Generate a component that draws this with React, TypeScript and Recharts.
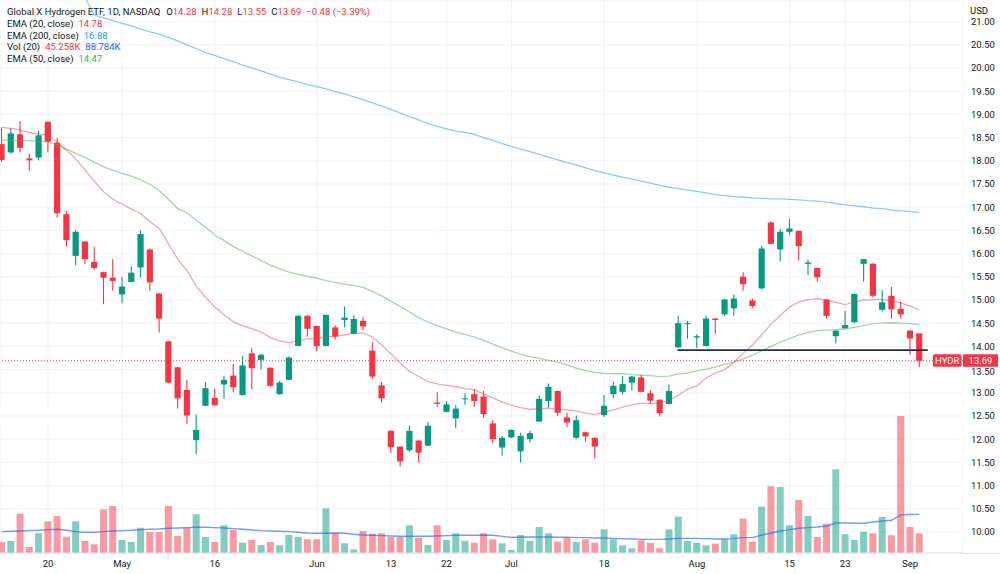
import React from 'react';
import {
  ComposedChart,
  Bar,
  Line,
  XAxis,
  YAxis,
  CartesianGrid,
  ReferenceLine,
} from 'recharts';

// Daily bars, trading-day index relative to Apr 20 (index 0)
const firstIndex = -5;

const opens = [
  18.36, 18.18, 18.57, 18.05, 18.07,
  18.84, 18.39, 16.85, 15.95, 16.26, 15.82, 15.60, 15.48, 15.12, 15.39,
  15.70, 16.09, 15.14, 14.11, 13.55, 13.06, 11.98, 12.72, 12.89, 13.18,
  13.37, 12.95, 13.85, 13.71, 13.54, 12.97, 13.28, 14.01, 14.66, 14.44,
  14.01, 14.41, 14.57, 14.27, 14.55, 13.91, 13.16, 12.18, 11.84, 11.76,
  11.97, 11.86, 12.79, 12.59, 12.45, 12.86, 12.97, 12.92, 12.34, 11.82,
  12.04, 11.74, 12.00, 12.38, 12.82, 13.04, 12.47, 12.03, 12.15, 12.03,
  12.52, 12.97, 13.02, 13.22, 13.33, 12.99, 12.85, 12.76, 13.98, 14.49,
  14.19, 14.01, 14.60, 14.69, 14.82, 15.50, 14.99, 15.25, 16.67, 16.09,
  16.47, 16.49, 15.78, 15.69, 15.01, 14.22, 14.39, 14.52, 15.78, 15.78,
  14.79, 15.09, 14.81, 14.34, 14.28,
];

const highs = [
  18.72, 18.70, 18.86, 18.16, 18.65,
  18.85, 18.49, 16.92, 16.51, 16.27, 16.15, 15.61, 15.88, 15.50, 15.73,
  16.50, 16.11, 15.15, 14.12, 13.56, 13.28, 12.54, 13.23, 13.08, 13.37,
  13.62, 13.79, 13.96, 13.84, 13.55, 13.26, 13.79, 14.67, 14.67, 14.45,
  14.69, 14.45, 14.86, 14.67, 14.64, 14.09, 13.24, 12.19, 11.85, 12.29,
  11.98, 12.37, 13.01, 12.82, 12.73, 12.99, 13.08, 13.04, 12.41, 12.07,
  12.21, 12.14, 12.18, 12.94, 13.20, 13.05, 12.57, 12.51, 12.16, 12.04,
  12.95, 13.24, 13.36, 13.36, 13.39, 13.06, 12.86, 13.18, 14.66, 14.55,
  14.26, 14.66, 14.61, 15.03, 15.12, 15.60, 15.03, 16.16, 16.70, 16.53,
  16.75, 16.50, 15.88, 15.70, 15.02, 14.35, 14.77, 15.14, 15.89, 15.79,
  15.21, 15.28, 14.96, 14.35, 14.28,
];

const lows = [
  17.98, 18.16, 18.18, 17.79, 18.01,
  18.18, 16.78, 16.15, 15.75, 15.78, 15.65, 14.91, 15.20, 14.93, 15.38,
  15.49, 15.20, 14.30, 13.21, 12.66, 12.32, 11.68, 12.71, 12.72, 12.87,
  13.01, 12.94, 13.07, 13.50, 13.13, 12.96, 13.27, 14.00, 14.21, 13.90,
  14.00, 14.15, 14.41, 14.26, 14.35, 13.30, 12.79, 11.71, 11.41, 11.73,
  11.49, 11.85, 12.70, 12.58, 12.24, 12.74, 12.70, 12.47, 11.91, 11.65,
  12.02, 11.50, 11.93, 12.37, 12.68, 12.50, 12.26, 12.00, 11.95, 11.59,
  12.48, 12.88, 12.97, 13.05, 13.01, 12.77, 12.49, 12.75, 13.97, 14.17,
  13.97, 14.00, 14.27, 14.66, 14.66, 15.20, 14.82, 15.23, 16.20, 15.83,
  16.40, 15.85, 15.54, 15.40, 14.60, 14.07, 14.38, 14.51, 15.40, 15.06,
  14.75, 14.60, 14.60, 13.82, 13.55,
];

const closes = [
  18.02, 18.59, 18.28, 18.01, 18.55,
  18.41, 16.87, 16.29, 16.47, 15.88, 15.69, 15.48, 15.41, 15.29, 15.59,
  16.42, 15.38, 14.60, 13.22, 12.88, 12.51, 12.20, 13.10, 12.73, 13.28,
  13.12, 13.59, 13.53, 13.82, 13.15, 13.22, 13.76, 14.66, 14.38, 14.01,
  14.68, 14.21, 14.62, 14.59, 14.43, 13.35, 12.88, 11.83, 11.52, 12.18,
  11.71, 12.29, 12.76, 12.75, 12.66, 12.88, 12.82, 12.54, 12.00, 12.03,
  12.20, 12.07, 12.13, 12.87, 13.13, 12.57, 12.36, 12.41, 12.06, 11.84,
  12.72, 13.15, 13.19, 13.35, 13.02, 12.83, 12.56, 13.04, 14.50, 14.50,
  14.22, 14.60, 14.57, 15.01, 15.03, 15.34, 14.87, 16.11, 16.21, 16.47,
  16.54, 16.16, 15.81, 15.49, 14.66, 14.34, 14.46, 15.13, 15.88, 15.09,
  14.95, 14.80, 14.69, 14.17, 13.69,
];

// Volume in thousands of shares
const volumes = [
  25.3, 27.6, 90.3, 13.8, 45.3,
  72.8, 85.0, 37.4, 72.8, 27.6, 20.0, 100.4, 108.0, 29.9, 25.3,
  58.1, 48.2, 48.2, 108.0, 39.0, 58.1, 88.9, 36.8, 25.3, 63.6,
  52.8, 23.7, 29.9, 18.4, 25.3, 17.7, 41.3, 36.8, 31.5, 31.5,
  102.7, 45.3, 22.3, 8.5, 50.5, 44.3, 45.3, 36.8, 36.8, 63.6,
  35.1, 18.4, 63.6, 29.9, 45.3, 27.6, 23.7, 45.3, 31.5, 22.3,
  6.9, 41.3, 27.6, 59.7, 45.3, 26.0, 35.1, 25.3, 31.5, 23.7,
  54.4, 31.5, 17.7, 10.8, 29.2, 23.7, 10.8, 54.4, 83.4, 27.6,
  23.7, 17.7, 21.4, 31.5, 43.0, 78.8, 26.0, 106.4, 153.2, 151.6,
  63.6, 121.7, 85.0, 36.8, 67.3, 192.3, 43.0, 29.9, 48.9, 45.3,
  82.7, 40.7, 314.7, 59.7, 45.258,
];

// Vol (20) moving average, thousands
const volumeMa = [
  49.1, 49.8, 50.6, 51.4, 52.1,
  53.7, 54.4, 52.1, 49.1, 47.5, 47.5, 49.1, 50.6, 51.4, 52.1,
  53.7, 54.4, 55.2, 56.7, 57.5, 58.3, 59.0, 59.0, 58.3, 57.5,
  56.0, 54.4, 52.9, 51.4, 50.6, 49.8, 49.1, 47.5, 46.0, 45.2,
  45.2, 46.0, 45.2, 42.9, 41.4, 40.6, 39.9, 39.1, 38.3, 38.3,
  38.3, 38.3, 39.1, 39.9, 40.6, 40.6, 40.6, 41.4, 40.6, 38.3,
  36.0, 36.0, 36.8, 36.8, 36.8, 36.0, 36.0, 35.3, 35.3, 34.5,
  34.5, 33.7, 33.0, 32.2, 31.4, 31.4, 31.4, 32.2, 33.7, 33.7,
  33.7, 33.0, 32.2, 32.2, 33.0, 35.3, 35.3, 41.4, 46.0, 50.6,
  53.7, 56.7, 58.3, 59.8, 62.1, 69.0, 69.0, 68.2, 68.2, 71.3,
  73.6, 75.1, 87.6, 88.5, 88.784,
];

const ema20 = [
  18.72, 18.70, 18.66, 18.61, 18.58,
  18.55, 18.40, 18.23, 18.04, 17.80, 17.56, 17.33, 17.17, 17.07, 16.96,
  16.86, 16.69, 16.54, 16.21, 15.88, 15.63, 15.30, 15.06, 14.85, 14.68,
  14.53, 14.45, 14.38, 14.31, 14.19, 14.12, 14.08, 14.12, 14.16, 14.17,
  14.20, 14.22, 14.25, 14.28, 14.29, 14.20, 14.03, 13.84, 13.64, 13.46,
  13.35, 13.24, 13.19, 13.16, 13.13, 13.09, 13.07, 12.97, 12.89, 12.80,
  12.73, 12.68, 12.64, 12.66, 12.67, 12.65, 12.63, 12.61, 12.56, 12.53,
  12.58, 12.63, 12.69, 12.74, 12.77, 12.77, 12.77, 12.84, 12.95, 13.08,
  13.15, 13.32, 13.43, 13.50, 13.66, 13.85, 14.03, 14.25, 14.48, 14.67,
  14.85, 14.96, 15.01, 15.03, 14.99, 14.95, 14.90, 14.96, 15.00, 15.01,
  15.01, 14.98, 14.94, 14.87, 14.78,
];

const ema50 = [
  18.45, 18.44, 18.44, 18.43, 18.42,
  18.41, 18.34, 18.25, 18.16, 18.07, 17.97, 17.87, 17.80, 17.73, 17.67,
  17.59, 17.49, 17.36, 17.17, 16.97, 16.88, 16.72, 16.57, 16.40, 16.28,
  16.15, 16.05, 15.95, 15.85, 15.75, 15.67, 15.60, 15.55, 15.51, 15.47,
  15.42, 15.38, 15.34, 15.31, 15.27, 15.18, 15.09, 14.97, 14.86, 14.74,
  14.62, 14.52, 14.45, 14.38, 14.31, 14.26, 14.20, 14.13, 14.05, 13.97,
  13.90, 13.83, 13.78, 13.74, 13.70, 13.66, 13.60, 13.53, 13.48, 13.44,
  13.42, 13.41, 13.41, 13.39, 13.38, 13.37, 13.35, 13.36, 13.41, 13.43,
  13.47, 13.51, 13.56, 13.61, 13.66, 13.73, 13.81, 13.91, 14.00, 14.09,
  14.17, 14.25, 14.30, 14.34, 14.35, 14.36, 14.38, 14.41, 14.45, 14.49,
  14.50, 14.51, 14.50, 14.49, 14.47,
];

const ema200 = [
  23.10, 22.90, 22.70, 22.50, 22.30,
  22.10, 21.90, 21.75, 21.62, 21.52, 21.14, 21.08, 21.02, 20.96, 20.91,
  20.84, 20.78, 20.73, 20.66, 20.58, 20.50, 20.42, 20.33, 20.27, 20.20,
  20.14, 20.06, 20.00, 19.94, 19.87, 19.80, 19.75, 19.70, 19.64, 19.60,
  19.55, 19.49, 19.44, 19.38, 19.32, 19.25, 19.18, 19.11, 19.03, 18.95,
  18.88, 18.80, 18.74, 18.69, 18.64, 18.61, 18.57, 18.50, 18.44, 18.37,
  18.31, 18.25, 18.20, 18.14, 18.08, 18.02, 17.96, 17.91, 17.85, 17.79,
  17.74, 17.69, 17.65, 17.61, 17.56, 17.52, 17.47, 17.43, 17.40, 17.37,
  17.34, 17.31, 17.27, 17.25, 17.23, 17.22, 17.20, 17.19, 17.18, 17.18,
  17.17, 17.16, 17.14, 17.13, 17.11, 17.08, 17.05, 17.03, 17.01, 16.98,
  16.97, 16.94, 16.92, 16.91, 16.88,
];

// Time axis labels and the bar index each one sits on
const tickIndices = [0, 8, 18, 29, 37, 43, 50, 60, 70, 80, 86, 93];
const tickLabels = ['20', 'May', '16', 'Jun', '13', '22', 'Jul', '18', 'Aug', '15', '23', 'Sep'];

const priceTicks = [
  10, 10.5, 11, 11.5, 12, 12.5, 13, 13.5, 14, 14.5, 15, 15.5,
  16, 16.5, 17, 17.5, 18, 18.5, 19, 19.5, 20, 20.5, 21,
];

const symbol = 'HYDR';
const lastPrice = 13.69;
const prevClose = 14.17;
// Horizontal drawing (support level) and its span in bar indices
const supportLevel = 13.92;
const supportFrom = 67.9;
const supportTo = 94.9;

const priceDomain: [number, number] = [9.547, 21.466];
const indexDomain: [number, number] = [-5.178, 98.706];
const volumeDomain: [number, number] = [0, 1270];

const UP = '#089981';
const DOWN = '#F23645';
const UP_VOL = 'rgba(8,153,129,0.5)';
const DOWN_VOL = 'rgba(242,54,69,0.5)';
const TEXT = '#131722';
const FONT = 'Roboto, "Noto Sans", sans-serif';

const rows = opens.map((o, k) => ({
  i: firstIndex + k,
  o,
  h: highs[k],
  l: lows[k],
  c: closes[k],
  range: [lows[k], highs[k]],
  vol: volumes[k],
  volMa: volumeMa[k],
  ema20: ema20[k],
  ema50: ema50[k],
  ema200: ema200[k],
}));

const last = rows[rows.length - 1];
const change = lastPrice - prevClose;
const changePct = (change / prevClose) * 100;
const fmtSigned = (v: number, d: number) => (v < 0 ? '\u2212' : '+') + Math.abs(v).toFixed(d);

const Candle = (props: any) => {
  const { x, y, width, height, payload } = props;
  if (x == null || y == null || !payload) return null;
  const { o, h, l, c } = payload;
  const span = h - l;
  const k = span > 0 ? height / span : 0;
  const cx = x + width / 2;
  const yO = y + (h - o) * k;
  const yC = y + (h - c) * k;
  const top = Math.min(yO, yC);
  const bh = Math.max(Math.abs(yO - yC), 1);
  const color = c >= o ? UP : DOWN;
  return (
    <g>
      <line x1={cx} x2={cx} y1={y} y2={y + height} stroke={color} strokeWidth={1.1} />
      <rect x={cx - 3.1} y={top} width={6.2} height={bh} fill={color} />
    </g>
  );
};

const VolumeBar = (props: any) => {
  const { x, y, width, height, payload } = props;
  if (x == null || y == null || !payload || !(height > 0)) return null;
  const cx = x + width / 2;
  return (
    <rect
      x={cx - 3.5}
      y={y}
      width={7}
      height={height}
      fill={payload.c >= payload.o ? UP_VOL : DOWN_VOL}
    />
  );
};

// Price scale label; the one sitting right under the last-price tag is nudged down
const PriceTick = (props: any) => {
  const { x, y, payload } = props;
  const v = payload.value as number;
  const nudge = Math.abs(v - lastPrice) < 0.25 && v < lastPrice ? 2.5 : 0;
  return (
    <text
      x={x}
      y={y + nudge}
      dy="0.35em"
      textAnchor="start"
      fontSize={9.5}
      fill={TEXT}
      fontFamily={FONT}
    >
      {v.toFixed(2)}
    </text>
  );
};

const PriceTag = (props: any) => {
  const vb = props.viewBox;
  if (!vb) return null;
  const right = vb.x + vb.width;
  const cy = vb.y;
  return (
    <g fontFamily={FONT} fontSize={9.5}>
      <rect x={right - 30} y={cy - 6.5} width={28.5} height={12.5} rx={1.5} fill={DOWN} />
      <text x={right - 15.75} y={cy - 0.25} dy="0.35em" textAnchor="middle" fill="#fff">
        {symbol}
      </text>
      <rect x={right} y={cy - 6.5} width={35} height={12.5} fill={DOWN} />
      <text x={right + 17.5} y={cy - 0.25} dy="0.35em" textAnchor="middle" fill="#fff">
        {lastPrice.toFixed(2)}
      </text>
    </g>
  );
};

const legendLine: React.CSSProperties = { height: 11.8, whiteSpace: 'nowrap' };
const gap: React.CSSProperties = { marginLeft: 5 };

export default function App() {
  return (
    <div
      style={{
        position: 'fixed',
        left: 0,
        top: 0,
        width: 1000,
        height: 574,
        background: '#ffffff',
        overflow: 'hidden',
        fontFamily: FONT,
      }}
    >
      <ComposedChart
        width={1000}
        height={574}
        data={rows}
        margin={{ top: 0, right: 0, bottom: 0, left: 0 }}
      >
        <CartesianGrid stroke="#f0f3fa" strokeWidth={1} />
        <XAxis
          dataKey="i"
          type="number"
          domain={indexDomain}
          allowDataOverflow
          ticks={tickIndices}
          interval={0}
          tickFormatter={(v: number) => tickLabels[tickIndices.indexOf(v)] ?? ''}
          height={21}
          tickLine={false}
          tickMargin={1}
          axisLine={{ stroke: '#e0e3eb' }}
          tick={{ fontSize: 9.5, fill: TEXT, fontFamily: FONT }}
        />
        <XAxis
          xAxisId="vol"
          dataKey="i"
          type="number"
          domain={indexDomain}
          allowDataOverflow
          hide
        />
        <YAxis
          orientation="right"
          width={37}
          type="number"
          domain={priceDomain}
          allowDataOverflow
          ticks={priceTicks}
          interval={0}
          tickLine={false}
          axisLine={false}
          tick={PriceTick}
        />
        <YAxis yAxisId="vol" type="number" domain={volumeDomain} allowDataOverflow hide />

        <Bar
          xAxisId="vol"
          yAxisId="vol"
          dataKey="vol"
          barSize={7}
          shape={VolumeBar}
          isAnimationActive={false}
        />
        <Line
          yAxisId="vol"
          dataKey="volMa"
          stroke="#2962FF"
          strokeOpacity={0.65}
          strokeWidth={1.4}
          dot={false}
          activeDot={false}
          isAnimationActive={false}
        />
        <Bar dataKey="range" barSize={7} shape={Candle} isAnimationActive={false} />
        <Line
          dataKey="ema200"
          stroke="#2196F3"
          strokeOpacity={0.5}
          strokeWidth={1.3}
          dot={false}
          activeDot={false}
          isAnimationActive={false}
        />
        <Line
          dataKey="ema50"
          stroke="#4CAF50"
          strokeOpacity={0.5}
          strokeWidth={1.3}
          dot={false}
          activeDot={false}
          isAnimationActive={false}
        />
        <Line
          dataKey="ema20"
          stroke={DOWN}
          strokeOpacity={0.45}
          strokeWidth={1.3}
          dot={false}
          activeDot={false}
          isAnimationActive={false}
        />
        <ReferenceLine
          y={lastPrice}
          stroke={DOWN}
          strokeWidth={1}
          strokeDasharray="1 2"
          label={PriceTag}
        />
        <ReferenceLine
          segment={[
            { x: supportFrom, y: supportLevel },
            { x: supportTo, y: supportLevel },
          ]}
          stroke="#2a2e39"
          strokeWidth={1.6}
        />
      </ComposedChart>

      <div
        style={{
          position: 'absolute',
          left: 7,
          top: 6,
          fontSize: 9.5,
          color: TEXT,
          lineHeight: '11.8px',
          pointerEvents: 'none',
        }}
      >
        <div style={legendLine}>
          <span>Global X Hydrogen ETF, 1D, NASDAQ</span>
          <span style={{ marginLeft: 6 }}>O</span>
          <span style={{ color: DOWN }}>{last.o.toFixed(2)}</span>
          <span style={gap}>H</span>
          <span style={{ color: DOWN }}>{last.h.toFixed(2)}</span>
          <span style={gap}>L</span>
          <span style={{ color: DOWN }}>{last.l.toFixed(2)}</span>
          <span style={gap}>C</span>
          <span style={{ color: DOWN }}>{last.c.toFixed(2)}</span>
          <span style={{ ...gap, color: DOWN }}>
            {fmtSigned(change, 2)} ({fmtSigned(changePct, 2)}%)
          </span>
        </div>
        <div style={legendLine}>
          <span>EMA (20, close)</span>
          <span style={{ ...gap, color: DOWN }}>{last.ema20.toFixed(2)}</span>
        </div>
        <div style={legendLine}>
          <span>EMA (200, close)</span>
          <span style={{ ...gap, color: '#2196F3' }}>{last.ema200.toFixed(2)}</span>
        </div>
        <div style={legendLine}>
          <span>Vol (20)</span>
          <span style={{ ...gap, color: DOWN }}>{last.vol.toFixed(3)}K</span>
          <span style={{ ...gap, color: '#2962FF' }}>{last.volMa.toFixed(3)}K</span>
        </div>
        <div style={legendLine}>
          <span>EMA (50, close)</span>
          <span style={{ ...gap, color: '#4CAF50' }}>{last.ema50.toFixed(2)}</span>
        </div>
      </div>

      <div
        style={{
          position: 'absolute',
          left: 970,
          top: 5,
          fontSize: 9.5,
          color: TEXT,
          pointerEvents: 'none',
        }}
      >
        USD
      </div>
      <div
        style={{
          position: 'absolute',
          left: 963,
          top: 553,
          width: 37,
          height: 1,
          background: '#e0e3eb',
        }}
      />
    </div>
  );
}
